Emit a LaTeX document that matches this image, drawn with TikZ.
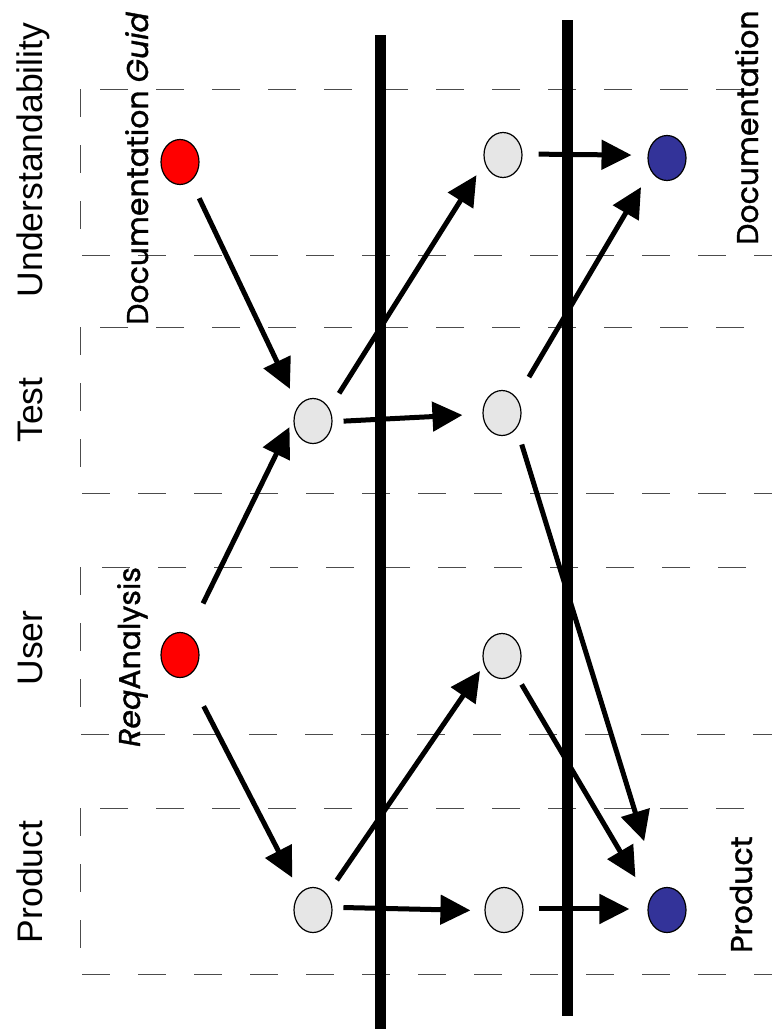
\documentclass[tikz,border=0pt]{standalone}
\usepackage{fontspec}
\setmainfont{Liberation Sans}
\newfontfamily\handfont[FakeBold=1.2]{Poppins}
\usetikzlibrary{arrows.meta,shapes.geometric}
\definecolor{nodered}{HTML}{FF0000}
\definecolor{nodegray}{HTML}{E6E6E6}
\definecolor{nodeblue}{HTML}{333399}
\tikzset{
  state/.style={ellipse,draw=black,line width=1.2pt,inner sep=0pt,
    minimum width=38pt,minimum height=45pt},
  src/.style={state,fill=nodered},
  mid/.style={state,fill=nodegray},
  dst/.style={state,fill=nodeblue},
  band/.style={draw=black!70,line width=1pt,dash pattern=on 28pt off 28pt},
  wall/.style={line width=11pt},
  arr/.style={line width=5pt,-{Triangle[length=30pt,width=29pt]}},
  aspect/.style={rotate=90,anchor=base,inner sep=0pt,font=\fontsize{35.5}{40}\selectfont},
  artifact/.style={rotate=90,anchor=base west,inner sep=0pt,font=\handfont\fontsize{30}{34}\selectfont}
}
\begin{document}
\begin{tikzpicture}[x=1pt,y=-1pt]
\useasboundingbox (0,0) rectangle (771,1036);

% quality aspect bands (right edge runs off the page)
\draw[band] (80,89) rectangle (778,255);
\draw[band] (80,327) rectangle (778,493);
\draw[band] (80,567) rectangle (778,734);
\draw[band] (80,808) rectangle (778,974);

% phase boundaries
\coordinate (w1t) at (380,35);  \coordinate (w1b) at (380,1029);
\coordinate (w2t) at (567,20);  \coordinate (w2b) at (567,1016);
\draw[wall] (w1t) -- (w1b);
\draw[wall] (w2t) -- (w2b);

% activities
\node[src] (r1) at (180,162) {};
\node[src] (r2) at (180,655) {};
\node[mid] (g1) at (313,421) {};
\node[mid] (g4) at (313,910) {};
\node[mid] (g3) at (503,155) {};
\node[mid] (g2) at (502,413) {};
\node[mid] (g5) at (502,656) {};
\node[mid] (g6) at (504,910) {};
\node[dst] (b1) at (667,158) {};
\node[dst] (b2) at (667,910) {};

% dependencies
\draw[arr,shorten <=19pt,shorten >=19pt] (r1.-60) -- (g1.135);
\draw[arr,shorten <=34pt,shorten >=9pt] (r2.69) -- (g1.174);
\draw[arr,shorten <=34pt,shorten >=17pt] (r2.-69) -- (g4.127);
\draw[arr,shorten <=18pt,shorten >=15pt] (g1.37) -- (g3.-158);
\draw[arr,shorten <=11pt,shorten >=20pt] (g1.-2) -- (g2.-177);
\draw[arr,shorten <=17pt,shorten >=7pt] (g4.48) -- (g5.-153);
\draw[arr,shorten <=11pt,shorten >=14pt] (g4.8) -- (g6.182);
\draw[arr,shorten <=16pt,shorten >=16pt] (g3.3) -- (b1.172);
\draw[arr,shorten <=24pt,shorten >=19pt] (g2.46) -- (b1.-142);
\draw[arr,shorten <=17pt,shorten >=50pt] (g2.-46) -- (b2.111);
\draw[arr,shorten <=13pt,shorten >=27pt] (g5.-53) -- (b2.152);
\draw[arr,shorten <=15pt,shorten >=18pt] (g6.3) -- (b2.177);

% aspect labels
\node[aspect] (lu) at (42,160) {Understandability};
\node[aspect] (lt) at (42,410) {Test};
\node[aspect] (lr) at (42,648) {User};
\node[aspect] (lp) at (42,882) {Product};

% artifact labels
\node[artifact] (ldg) at (148,325) {Documentation \textit{Guid}};
\node[artifact] (lra) at (140,747) {\textit{Req}Analysis};
\node[artifact] (ldo) at (758,245) {Documentation};
\node[artifact] (lpr) at (752,953) {Product};
\end{tikzpicture}
\end{document}
